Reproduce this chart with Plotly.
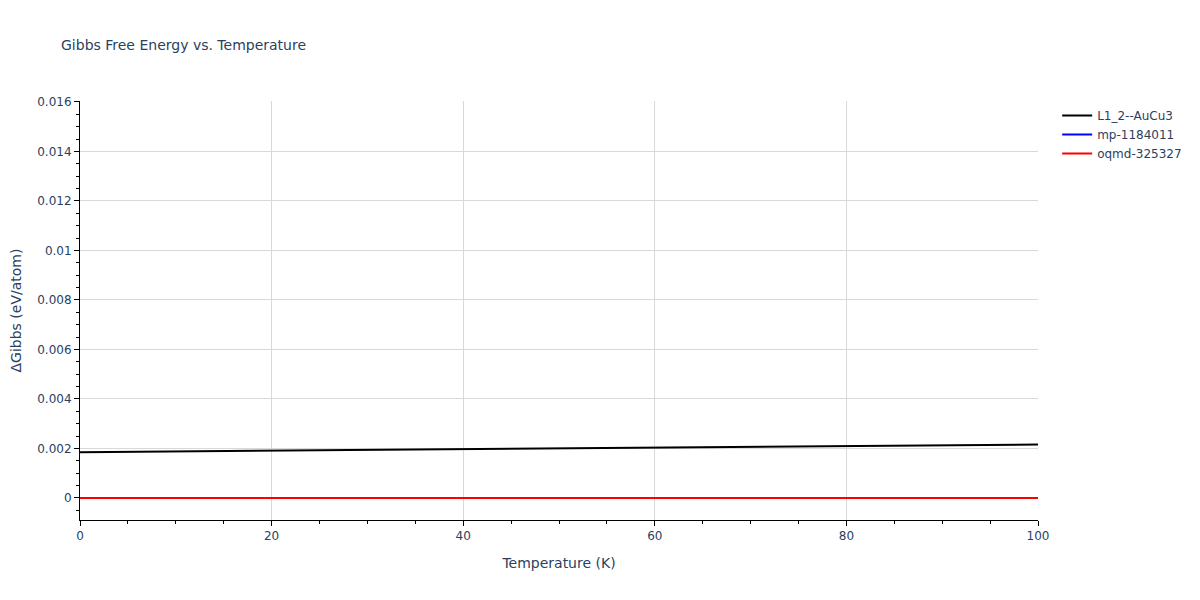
import plotly.graph_objects as go

temperature = [0, 10, 20, 30, 40, 50, 60, 70, 80, 90, 100]
l12_aucu3 = [0.00185, 0.00188, 0.00191, 0.00194, 0.00197, 0.00200, 0.00203, 0.00206, 0.00209, 0.00212, 0.00216]
mp_1184011 = [0.0, 0.0, 0.0, 0.0, 0.0, 0.0, 0.0, 0.0, 0.0, 0.0, 0.0]
oqmd_325327 = [0.0, 0.0, 0.0, 0.0, 0.0, 0.0, 0.0, 0.0, 0.0, 0.0, 0.0]

FONT = "Verdana, DejaVu Sans, sans-serif"
TXT = "#2a3f5f"

fig = go.Figure()
fig.add_trace(go.Scatter(x=temperature, y=l12_aucu3, mode="lines", name="L1_2--AuCu3",
                         line=dict(color="black", width=2)))
fig.add_trace(go.Scatter(x=temperature, y=mp_1184011, mode="lines", name="mp-1184011",
                         line=dict(color="blue", width=2)))
fig.add_trace(go.Scatter(x=temperature, y=oqmd_325327, mode="lines", name="oqmd-325327",
                         line=dict(color="red", width=2)))

axis_common = dict(
    showline=True, linecolor="black", linewidth=1,
    ticks="outside", tickcolor="black", ticklen=5,
    showgrid=True, gridcolor="#d9d9d9", zeroline=False, automargin=False,
    tickfont=dict(color=TXT, size=12, family=FONT),
)

W, H = 1184, 584
fig.update_layout(
    template="plotly_white",
    width=W, height=H,
    font=dict(family=FONT, color=TXT),
    title=dict(text="Gibbs Free Energy vs. Temperature", x=53 / W, xanchor="left",
               y=1 - 37 / H, yanchor="middle",
               font=dict(size=14, color=TXT, family=FONT)),
    xaxis=dict(title=dict(text="Temperature (K)", font=dict(size=14, family=FONT)), range=[0, 100], dtick=20,
               minor=dict(ticks="outside", dtick=5, ticklen=3, tickcolor="black", showgrid=False),
               **axis_common),
    yaxis=dict(title=dict(text="ΔGibbs (eV/atom)", font=dict(size=14, family=FONT)), range=[-0.00089, 0.01604], dtick=0.002,
               tickformat="~r",
               minor=dict(ticks="outside", dtick=0.0005, ticklen=3, tickcolor="black", showgrid=False),
               **axis_common),
    legend=dict(x=1.02, y=1.0, font=dict(size=12, color=TXT, family=FONT)),
    margin=dict(l=72, r=154, t=93, b=72, autoexpand=False),
    plot_bgcolor="white", paper_bgcolor="white",
)

fig.write_html("out.html")
